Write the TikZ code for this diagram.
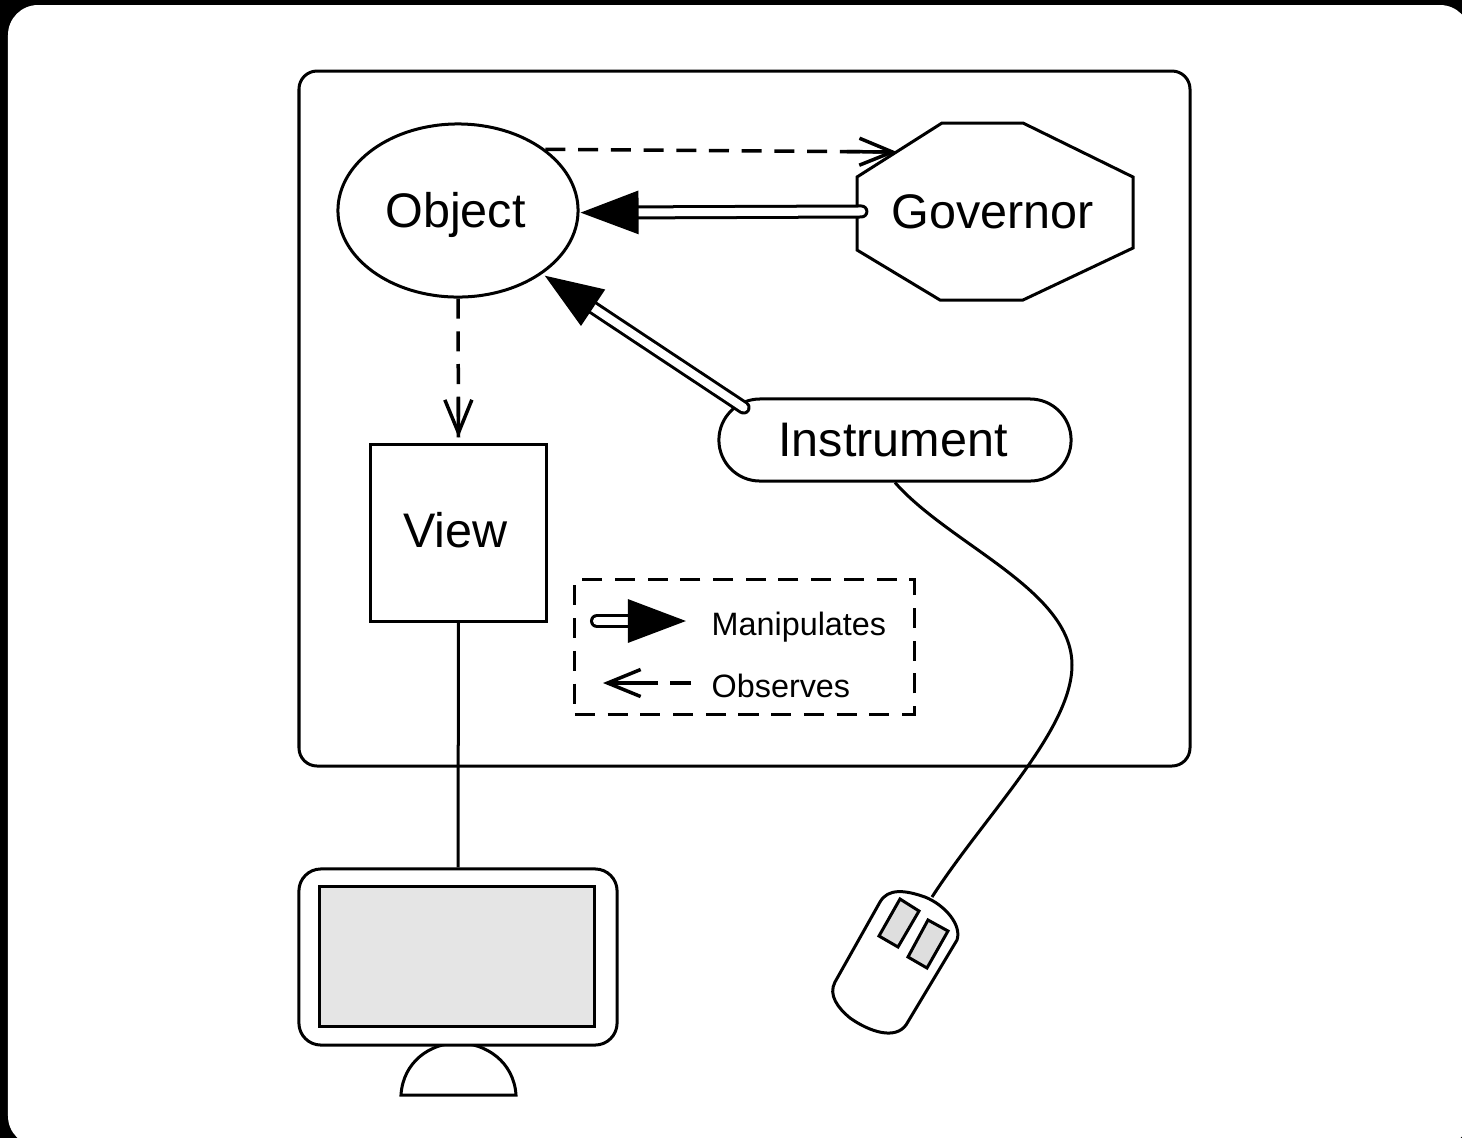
\documentclass[tikz,border=0pt]{standalone}
\usepackage{fontspec}
\setmainfont{Liberation Sans}
\usetikzlibrary{arrows.meta,calc,shapes.geometric,shapes.misc}
\tikzset{
	thing/.style={draw,line width=.03cm,inner sep=0pt,font=\fontsize{13.8}{16}\selectfont},
	legendtext/.style={anchor=west,inner sep=0pt,font=\fontsize{9.2}{11}\selectfont},
	manipulates/.style={line width=.03cm,double=white,double distance=.08cm,line cap=round,-{Triangle[length=.58cm,width=.43cm]}},
	observes/.style={line width=.035cm,dash pattern=on .2cm off .127cm},
	observestip/.style={line width=.035cm,-{Straight Barb[length=.33cm,width=.27cm]}}
}
\begin{document}
\begin{tikzpicture}[x=0.01cm,y=-0.01cm]
	\useasboundingbox (0,0) rectangle (1462,1138);
	\fill[black] (0,0) rectangle (1462,1138);
	\fill[white,rounded corners=.3cm] (8,5) rectangle (1470,1146);

	\draw[line width=.03cm,rounded corners=.18cm] (299,71) rectangle (1190,766);

	\node[thing,ellipse,minimum width=2.4cm,minimum height=1.73cm,text height=.355cm,text depth=.02cm] (object) at (458,210.5) {\hspace*{-.05cm}Object};
	% governor
	\draw[line width=.03cm] (857,177) -- (942,123) -- (1023,123) -- (1133,177) -- (1133,248)
		-- (1023,300) -- (940,300) -- (857,250) -- cycle;
	\node[thing,draw=none,minimum width=2.76cm,minimum height=1.77cm] (governor) at (995,211.5) {\hspace*{-.04cm}Governor};
	\coordinate (governortip) at (897,152);
	\node[thing,rounded rectangle,minimum width=3.52cm,minimum height=.82cm] (instrument) at (895,440) {\hspace*{-.04cm}Instrument};
	\node[thing,minimum width=1.75cm,minimum height=1.76cm,text height=.355cm,text depth=.06cm] (view) at (458.5,533) {\hspace*{-.06cm}View};

	% monitor
	\draw[line width=.03cm] (401,1095) .. controls (403,1062) and (430,1043) .. (458,1043)
		.. controls (486,1043) and (514,1062) .. (516,1095) -- cycle;
	\node[draw,fill=white,line width=.03cm,rounded corners=.22cm,minimum width=3.18cm,minimum height=1.76cm] (monitor) at (458,957) {};
	\node[draw,fill=black!10,line width=.03cm,minimum width=2.74cm,minimum height=1.39cm] (screen) at (457,956.5) {};
	\draw[line width=.03cm] (view.south) -- (monitor.north);

	% mouse
	\coordinate (mousetop) at (932,897);
	\draw[line width=.03cm,line join=round] (880,902) .. controls (888,888) and (905,890) .. (925,897)
		.. controls (945,905) and (962,925) .. (957,940) -- (906,1025)
		.. controls (895,1040) and (870,1032) .. (850,1018) .. controls (838,1008) and (828,995) .. (835,982) -- cycle;
	\draw[line width=.03cm,fill=black!13] (900,899) -- (919,911) -- (898,947) -- (879,936) -- cycle;
	\draw[line width=.03cm,fill=black!13] (928,920) -- (948,931) -- (927,968) -- (908,957) -- cycle;

	\draw[line width=.03cm] (instrument.south) .. controls (950,545) and (1072,590) .. (1072,665)
		.. controls (1072,730) and (985,815) .. (mousetop);

	\draw[observes] (object.35) -- (governortip);
	\draw[observestip] ($(governortip)!.5cm!(object.35)$) -- (governortip);
	\coordinate (viewtip) at ($(view.north)+(0,-6)$);
	\draw[observes] (object.south) -- (viewtip);
	\draw[observestip] ($(viewtip)!.4cm!(object.south)$) -- (viewtip);
	\draw[manipulates,shorten >=.01cm,shorten <=-.06cm] (governor.west) -- (object.-1);
	\draw[manipulates,shorten >=.03cm,shorten <=-.07cm] (instrument.167) -- (object.-37);

	% legend
	\node[draw,line width=.03cm,dash pattern=on .2cm off .127cm,minimum width=3.39cm,minimum height=1.34cm,inner sep=0pt] (legend) at (744.5,647) {};
	\node[legendtext] (manipulateslabel) at (711,627) {Manipulates};
	\node[legendtext] (observeslabel) at (711,686) {Observes};
	\coordinate (manipstart) at (597,621);
	\coordinate (manipend) at (686,621);
	\coordinate (obsstart) at (691,683);
	\coordinate (obsmid) at (658,683);
	\coordinate (obsend) at (603,683);
	\draw[manipulates] (manipstart) -- (manipend);
	\draw[line width=.035cm] (obsstart) -- +(-21,0);
	\draw[observestip] (obsmid) -- (obsend);
\end{tikzpicture}
\end{document}
